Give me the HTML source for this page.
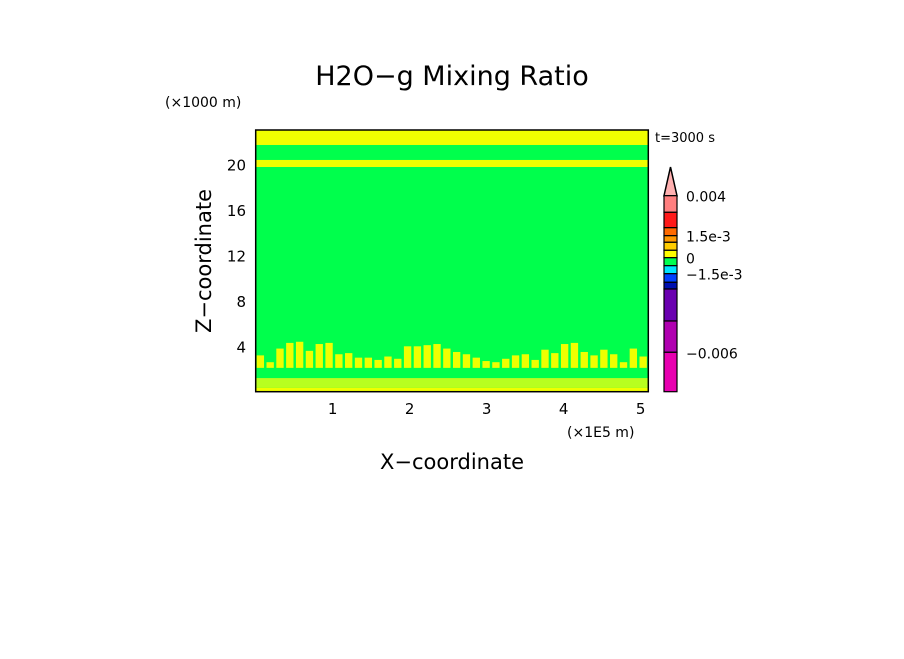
<!DOCTYPE html>
<html><head><meta charset="utf-8"><style>
body{margin:0;background:#fff;}
svg text{font-family:"DejaVu Sans","Liberation Sans",sans-serif;fill:#000;}
</style></head><body>
<svg width="904" height="654" viewBox="0 0 904 654">
<rect width="904" height="654" fill="#fff"/>
<text x="452" y="85" font-size="27" text-anchor="middle">H2O−g Mixing Ratio</text>
<text x="165" y="107" font-size="14">(×1000 m)</text>
<text x="567" y="437" font-size="14">(×1E5 m)</text>
<text x="452" y="469" font-size="21" text-anchor="middle">X−coordinate</text>
<text transform="translate(211,261) rotate(-90)" font-size="21" text-anchor="middle">Z−coordinate</text>
<text x="655" y="142" font-size="13">t=3000 s</text>
<g id="plot"></g>
<g id="xt"></g>
<g id="yt"></g>
<g id="cb"></g>
</svg>
<script>
const xTicks=[1,2,3,4,5];
const yTicks=[4,8,12,16,20];
const bands=[{z0:21.74,z1:23.06,c:"yellow"},{z0:19.8,z1:20.42,c:"yellow"}];
const plumeTops=[3.2,2.6,3.8,4.3,4.4,3.6,4.2,4.3,3.3,3.4,3.0,3.0,2.8,3.1,2.9,4.0,4.0,4.1,4.2,3.8,3.5,3.3,3.0,2.7,2.6,2.9,3.2,3.3,2.8,3.7,3.4,4.2,4.3,3.5,3.2,3.7,3.3,2.6,3.8,3.1];
const cbLabels=[{t:"0.004",i:0},{t:"1.5e-3",i:3},{t:"0",i:6},{t:"−1.5e-3",i:8},{t:"−0.006",i:12}];
const cbColors=["#ff7f7f","#ff1a1a","#ff6a00","#ff9900","#ffcc00","#ffff00","#00ff50","#00e5ff","#0040ff","#0010b0","#6a00b0","#b000b0","#e800b0"];
const cbEdges=[195.7,212.3,227.7,235.7,242.3,250.3,257.7,265.7,273.7,282.3,289,321,352.3,391.7];
const NS="http://www.w3.org/2000/svg";
const L=255.7,R=648.3,T=130,B=391.7,X0=0,X1=5.1,Z0=0,Z1=23.06;
const sx=v=>L+(v-X0)/(X1-X0)*(R-L), sz=v=>B-(v-Z0)/(Z1-Z0)*(B-T);
const YEL="#f0ff00",GRN="#00ff4c";
function mk(tag,attrs,parent){const e=document.createElementNS(NS,tag);for(const k in attrs)e.setAttribute(k,attrs[k]);parent.appendChild(e);return e;}
const plot=document.getElementById('plot');
let e=mk('rect',{x:L,y:T,width:R-L,height:B-T,fill:GRN},plot);


bands.forEach(b=>{const r=mk('rect',{x:L,y:sz(b.z1),width:R-L,height:sz(b.z0)-sz(b.z1),fill:YEL},plot);

});
const w=(X1-X0)/plumeTops.length;
plumeTops.forEach((h,i)=>{const x0=sx(X0+i*w);const pw=sx(X0+(i+1)*w)-x0;
const r=mk('rect',{x:x0+pw*0.1,y:sz(h),width:pw*0.75,height:sz(2.1)-sz(h),fill:YEL},plot);

});
e=mk('rect',{x:L,y:sz(1.2),width:R-L,height:sz(0.35)-sz(1.2),fill:"#b8ff20"},plot);


e=mk('rect',{x:L,y:sz(0.35),width:R-L,height:sz(0)-sz(0.35),fill:YEL},plot);


e=mk('rect',{x:L,y:T,width:R-L,height:B-T,fill:"none",stroke:"#000","stroke-width":1.5},plot);


const xt=document.getElementById('xt');
xTicks.forEach(v=>{const t=mk('text',{x:sx(v),y:414,"font-size":15,"text-anchor":"middle"},xt);t.textContent=v;

});
const yt=document.getElementById('yt');
yTicks.forEach(v=>{const t=mk('text',{x:246,y:sz(v)+6,"font-size":15,"text-anchor":"end"},yt);t.textContent=v;

});
const cb=document.getElementById('cb');
const CL=664,CR=677;
e=mk('polygon',{points:`${CL},${cbEdges[0]} ${CR},${cbEdges[0]} ${(CL+CR)/2},167`,fill:"#ffb0b0",stroke:"#000","stroke-width":1.5},cb);


cbColors.forEach((c,i)=>{const r=mk('rect',{x:CL,y:cbEdges[i],width:CR-CL,height:cbEdges[i+1]-cbEdges[i],fill:c,stroke:"#000","stroke-width":1.2},cb);

});
cbLabels.forEach(l=>{const t=mk('text',{x:686,y:cbEdges[l.i]+6,"font-size":14},cb);t.textContent=l.t;

});
</script>
</body></html>
